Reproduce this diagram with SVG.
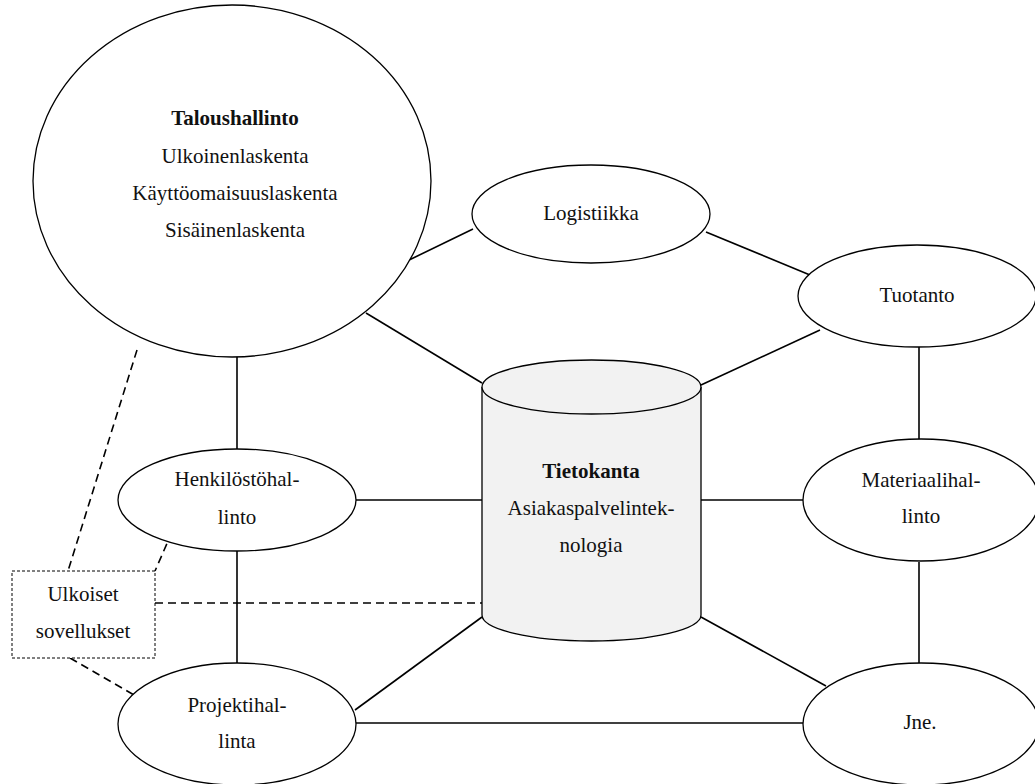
<svg xmlns="http://www.w3.org/2000/svg" width="1035" height="784" viewBox="0 0 1035 784">
<style>
.n{fill:#fff;stroke:#000;stroke-width:1.3}
.t{font-family:"Liberation Serif","Times New Roman",serif;font-size:21px;fill:#111;text-anchor:middle}
.b{font-weight:bold}
.c line{stroke:#000;stroke-width:1.6}
.c line.d{stroke-dasharray:8,5}
.cyl{fill:#f2f2f2;stroke:#000;stroke-width:1.3}
</style>
<rect width="1035" height="784" fill="#fff"/>
<g class="c" id="connectors">
<line x1="405" y1="262" x2="473" y2="229"/>
<line x1="366" y1="313" x2="482" y2="383"/>
<line x1="706" y1="232" x2="810" y2="275"/>
<line x1="820" y1="330" x2="701" y2="385"/>
<line x1="919" y1="346" x2="919" y2="440"/>
<line x1="237" y1="355" x2="237" y2="449"/>
<line x1="356" y1="500" x2="482" y2="500"/>
<line x1="701" y1="500" x2="803" y2="500"/>
<line x1="237" y1="551" x2="237" y2="663"/>
<line x1="355" y1="710" x2="482" y2="617"/>
<line x1="356" y1="723" x2="803" y2="723"/>
<line x1="701" y1="617" x2="826" y2="686"/>
<line x1="919" y1="562" x2="919" y2="663"/>
<line class="d" x1="137" y1="350" x2="68" y2="571"/>
<line class="d" x1="172" y1="532" x2="155" y2="571"/>
<line class="d" x1="155" y1="603" x2="482" y2="603"/>
<line class="d" x1="70" y1="658" x2="134" y2="695"/>
</g>
<g id="taloushallinto">
<ellipse class="n" cx="232" cy="181" rx="199" ry="176"/>
<text class="t b" x="235" y="125">Taloushallinto</text>
<text class="t" x="235" y="163">Ulkoinenlaskenta</text>
<text class="t" x="235" y="200">Käyttöomaisuuslaskenta</text>
<text class="t" x="235" y="237">Sisäinenlaskenta</text>
</g>
<g id="logistiikka">
<ellipse class="n" cx="591" cy="214" rx="119" ry="49"/>
<text class="t" x="591" y="220">Logistiikka</text>
</g>
<g id="tuotanto">
<ellipse class="n" cx="917" cy="296" rx="119" ry="51"/>
<text class="t" x="917" y="302">Tuotanto</text>
</g>
<g id="henkilosto">
<ellipse class="n" cx="237" cy="500" rx="119" ry="51"/>
<text class="t" x="237" y="486">Henkilöstöhal-</text>
<text class="t" x="237" y="524">linto</text>
</g>
<g id="materiaali">
<ellipse class="n" cx="921" cy="500" rx="118" ry="61"/>
<text class="t" x="921" y="487">Materiaalihal-</text>
<text class="t" x="921" y="523">linto</text>
</g>
<g id="projekti">
<ellipse class="n" cx="237" cy="724" rx="119" ry="61"/>
<text class="t" x="237" y="712">Projektihal-</text>
<text class="t" x="237" y="748">linta</text>
</g>
<g id="jne">
<ellipse class="n" cx="921" cy="724" rx="118" ry="61"/>
<text class="t" x="920" y="729">Jne.</text>
</g>
<g id="tietokanta">
<path class="cyl" d="M482,387 L482,615 A109.5,26 0 0 0 701,615 L701,387"/>
<ellipse class="cyl" cx="591.5" cy="387" rx="109.5" ry="27" fill="#f7f7f7"/>
<text class="t b" x="591" y="478">Tietokanta</text>
<text class="t" x="591" y="515">Asiakaspalvelintek-</text>
<text class="t" x="591" y="552">nologia</text>
</g>
<g id="ulkoiset">
<rect x="12" y="571" width="143" height="87" fill="#fff" stroke="#000" stroke-width="1" stroke-dasharray="3,2"/>
<text class="t" x="83" y="601">Ulkoiset</text>
<text class="t" x="83" y="638">sovellukset</text>
</g>
</svg>
